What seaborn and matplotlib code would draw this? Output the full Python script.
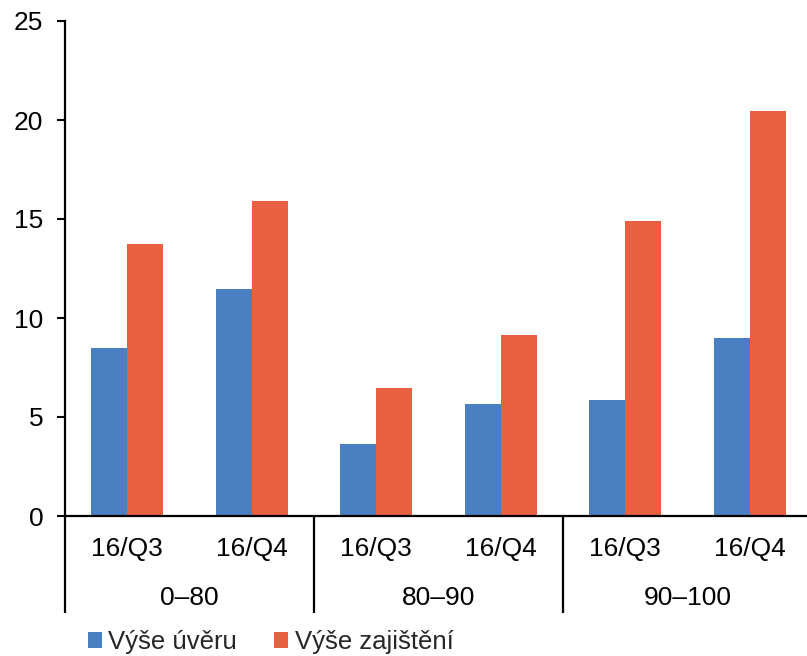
import matplotlib
matplotlib.use("Agg")
import matplotlib.pyplot as plt
from matplotlib.patches import Patch
import seaborn as sns
import pandas as pd

# LTV bands and quarters
bands = ["0–80", "80–90", "90–100"]
quarters = ["16/Q3", "16/Q4"]
series = ["Výše úvěru", "Výše zajištění"]

loan = [8.47, 11.48, 3.63, 5.65, 5.85, 8.97]
collateral = [13.72, 15.93, 6.45, 9.12, 14.92, 20.45]

colors = ["#4A7FC1", "#E8603F"]

keys = [f"{b} {q}" for b in bands for q in quarters]
df = pd.DataFrame({
    "key": keys * 2,
    "value": loan + collateral,
    "series": [series[0]] * len(keys) + [series[1]] * len(keys),
})

sns.set_theme(style="white")
plt.rcParams["font.family"] = ["Liberation Sans", "DejaVu Sans"]

fig = plt.figure(figsize=(8.07, 6.56), dpi=100)
ax = fig.add_axes([65 / 807, 140 / 656, 747 / 807, 495 / 656])

sns.barplot(data=df, x="key", y="value", hue="series", order=keys,
            hue_order=series, palette=colors, width=0.578, gap=0,
            saturation=1, ax=ax, legend=False, edgecolor="none")

ax.set_xlim(-0.5, len(keys) - 0.5)
ax.set_ylim(0, 25)
ax.set_yticks([0, 5, 10, 15, 20, 25])
ax.set_xlabel("")
ax.set_ylabel("")

for side in ["top", "right"]:
    ax.spines[side].set_visible(False)
for side in ["left", "bottom"]:
    ax.spines[side].set_color("black")
    ax.spines[side].set_linewidth(1.6)

ax.tick_params(axis="y", length=6, width=1.5, color="black", pad=9.5,
               labelsize=19, labelcolor="black", left=True)
ax.set_xticks(range(len(keys)))
ax.set_xticklabels([])
ax.tick_params(axis="x", length=0)

# two-level category axis
trans = ax.get_xaxis_transform()
px = 1 / 495  # one pixel in axes height units
for i, k in enumerate(keys):
    ax.text(i, -33 * px, quarters[i % 2], transform=trans, ha="center",
            va="center", fontsize=19, color="black")
for j, b in enumerate(bands):
    ax.text(2 * j + 0.5, -82 * px, b, transform=trans, ha="center",
            va="center", fontsize=19, color="black")
for xpos in [-0.5, 1.5, 3.5]:
    ax.plot([xpos, xpos], [0, -97 * px], transform=trans, color="black",
            lw=1.6, clip_on=False, solid_capstyle="butt")

handles = [Patch(facecolor=c, edgecolor="none") for c in colors]
fig.legend(handles, series, loc="center left", bbox_to_anchor=(88 / 807, 14 / 656),
           ncol=2, frameon=False, fontsize=18.5, handlelength=0.54,
           handleheight=0.54, handletextpad=0.25, columnspacing=1.45,
           borderpad=0, borderaxespad=0)

fig.savefig("out.png", dpi=100, facecolor="white")
